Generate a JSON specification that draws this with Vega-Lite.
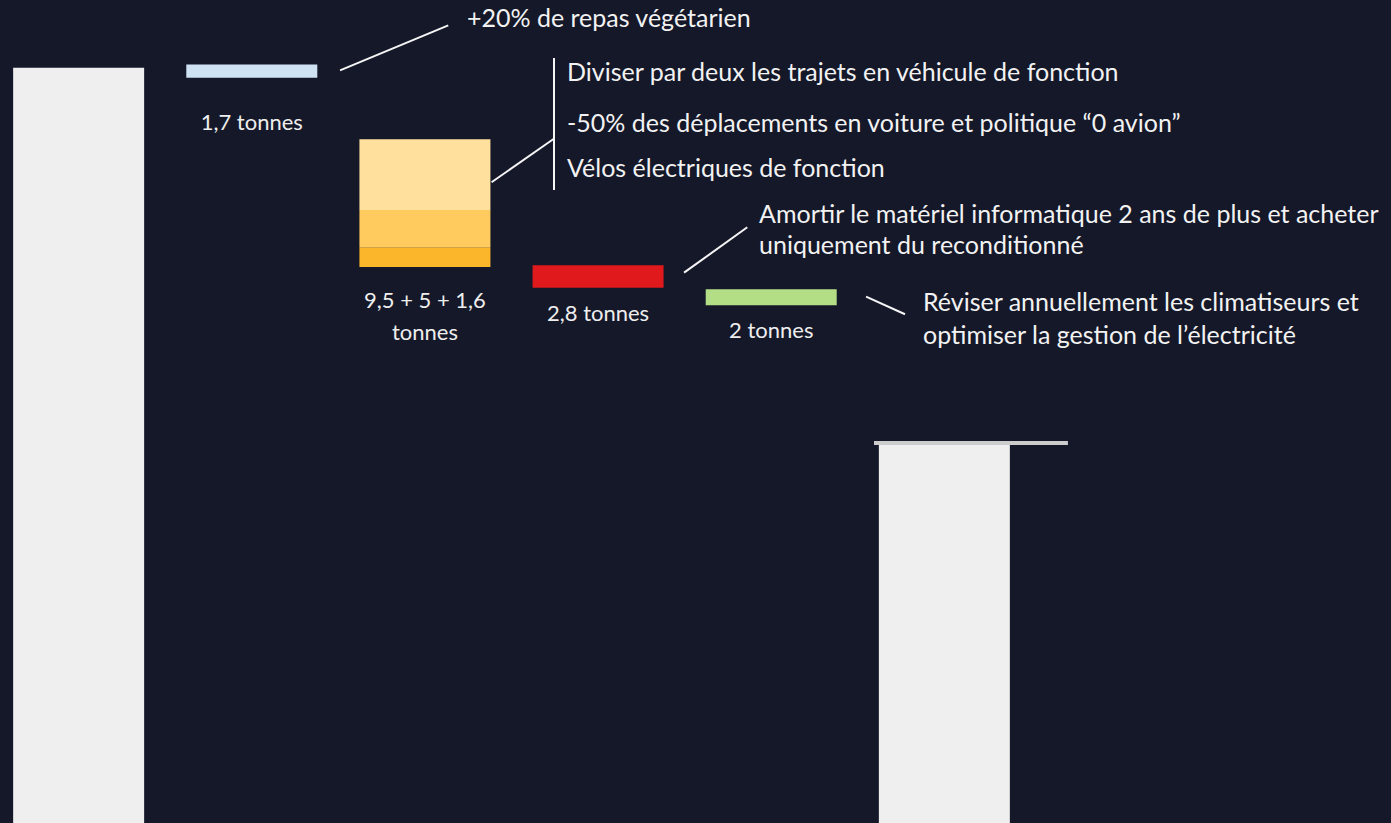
{
  "$schema": "https://vega.github.io/schema/vega-lite/v6.json",
  "width": 1391,
  "height": 823,
  "padding": 0,
  "autosize": {"type": "none"},
  "background": "#151829",
  "config": {
    "view": {"stroke": null},
    "text": {"font": "Lato"}
  },
  "datasets": {
    "barres": [
      {"etape": "Départ", "poste": "Total", "haut": 98.2, "bas": 0},
      {"etape": "Alimentation", "poste": "Repas végétarien", "haut": 98.6, "bas": 96.9},
      {"etape": "Déplacements", "poste": "Véhicule de fonction", "haut": 88.9, "bas": 79.7},
      {"etape": "Déplacements", "poste": "Voiture et avion", "haut": 79.7, "bas": 74.8},
      {"etape": "Déplacements", "poste": "Vélos électriques", "haut": 74.8, "bas": 72.3},
      {"etape": "Numérique", "poste": "Matériel informatique", "haut": 72.5, "bas": 69.6},
      {"etape": "Énergie", "poste": "Climatisation et électricité", "haut": 69.4, "bas": 67.3},
      {"etape": "Arrivée", "poste": "Total", "haut": 49.4, "bas": 0}
    ],
    "etiquettes": [
      {"etape": "Alimentation", "texte": "1,7 tonnes", "y": 91.0},
      {"etape": "Déplacements", "texte": "9,5 + 5 + 1,6", "y": 67.9},
      {"etape": "Déplacements", "texte": "tonnes", "y": 63.7},
      {"etape": "Numérique", "texte": "2,8 tonnes", "y": 66.2},
      {"etape": "Énergie", "texte": "2 tonnes", "y": 64.0}
    ],
    "annotations": [
      {"texte": "+20% de repas végétarien", "u": 2.697, "y": 104.5},
      {"texte": "Diviser par deux les trajets en véhicule de fonction", "u": 3.275, "y": 97.5},
      {"texte": "-50% des déplacements en voiture et politique “0 avion”", "u": 3.275, "y": 90.9},
      {"texte": "Vélos électriques de fonction", "u": 3.275, "y": 85.0},
      {"texte": "Amortir le matériel informatique 2 ans de plus et acheter", "u": 4.384, "y": 79.05},
      {"texte": "uniquement du reconditionné", "u": 4.384, "y": 75.0},
      {"texte": "Réviser annuellement les climatiseurs et", "u": 5.331, "y": 67.6},
      {"texte": "optimiser la gestion de l’électricité", "u": 5.331, "y": 63.3}
    ],
    "traits": [
      {"u1": 1.964, "u2": 2.589, "y1": 97.86, "y2": 103.71},
      {"u1": 2.839, "u2": 3.197, "y1": 83.3, "y2": 88.93},
      {"u1": 3.1997, "u2": 3.1997, "y1": 82.3, "y2": 99.46},
      {"u1": 3.951, "u2": 4.316, "y1": 71.55, "y2": 77.45},
      {"u1": 5.002, "u2": 5.227, "y1": 68.43, "y2": 66.14}
    ],
    "repere": [
      {"u1": 5.048, "u2": 6.168, "y": 49.4}
    ]
  },
  "layer": [
    {
      "layer": [
        {
          "data": {"name": "barres"},
          "mark": {"type": "bar"},
          "encoding": {
            "x": {
              "field": "etape", "type": "nominal", "axis": null,
              "scale": {
                "type": "band",
                "domain": ["Départ", "Alimentation", "Déplacements", "Numérique", "Énergie", "Arrivée"],
                "range": [0, 1023],
                "paddingInner": 0.2434, "paddingOuter": 0.0759, "align": 0.5, "round": false
              }
            },
            "y": {"field": "haut", "type": "quantitative", "axis": null, "scale": {"domain": [0, 107], "nice": false, "zero": false}},
            "y2": {"field": "bas"},
            "color": {
              "field": "poste", "type": "nominal", "legend": null,
              "scale": {
                "domain": ["Total", "Repas végétarien", "Véhicule de fonction", "Voiture et avion", "Vélos électriques", "Matériel informatique", "Climatisation et électricité"],
                "range": ["#EFEFEF", "#CFE2F3", "#FFE09C", "#FFCA5E", "#FBB62C", "#E0191C", "#B3DE85"]
              }
            }
          }
        },
        {
          "data": {"name": "etiquettes"},
          "mark": {"type": "text", "fontSize": 22, "color": "#EEEEEE", "baseline": "middle", "align": "center"},
          "encoding": {
            "x": {"field": "etape", "type": "nominal", "axis": null},
            "y": {"field": "y", "type": "quantitative"},
            "text": {"field": "texte"}
          }
        }
      ]
    },
    {
      "layer": [
        {
          "data": {"name": "repere"},
          "mark": {"type": "rule", "color": "#CCCCCC", "strokeWidth": 4},
          "encoding": {
            "x": {"field": "u1", "type": "quantitative", "axis": null, "scale": {"domain": [0, 8.034], "nice": false, "zero": false}},
            "x2": {"field": "u2"},
            "y": {"field": "y", "type": "quantitative"}
          }
        },
        {
          "data": {"name": "traits"},
          "mark": {"type": "rule", "color": "#F5F5F5", "strokeWidth": 2},
          "encoding": {
            "x": {"field": "u1", "type": "quantitative", "axis": null},
            "x2": {"field": "u2"},
            "y": {"field": "y1", "type": "quantitative"},
            "y2": {"field": "y2"}
          }
        },
        {
          "data": {"name": "annotations"},
          "mark": {"type": "text", "fontSize": 25, "color": "#F2F2F2", "baseline": "middle", "align": "left"},
          "encoding": {
            "x": {"field": "u", "type": "quantitative", "axis": null},
            "y": {"field": "y", "type": "quantitative"},
            "text": {"field": "texte"}
          }
        }
      ]
    }
  ],
  "resolve": {"scale": {"x": "independent"}}
}
